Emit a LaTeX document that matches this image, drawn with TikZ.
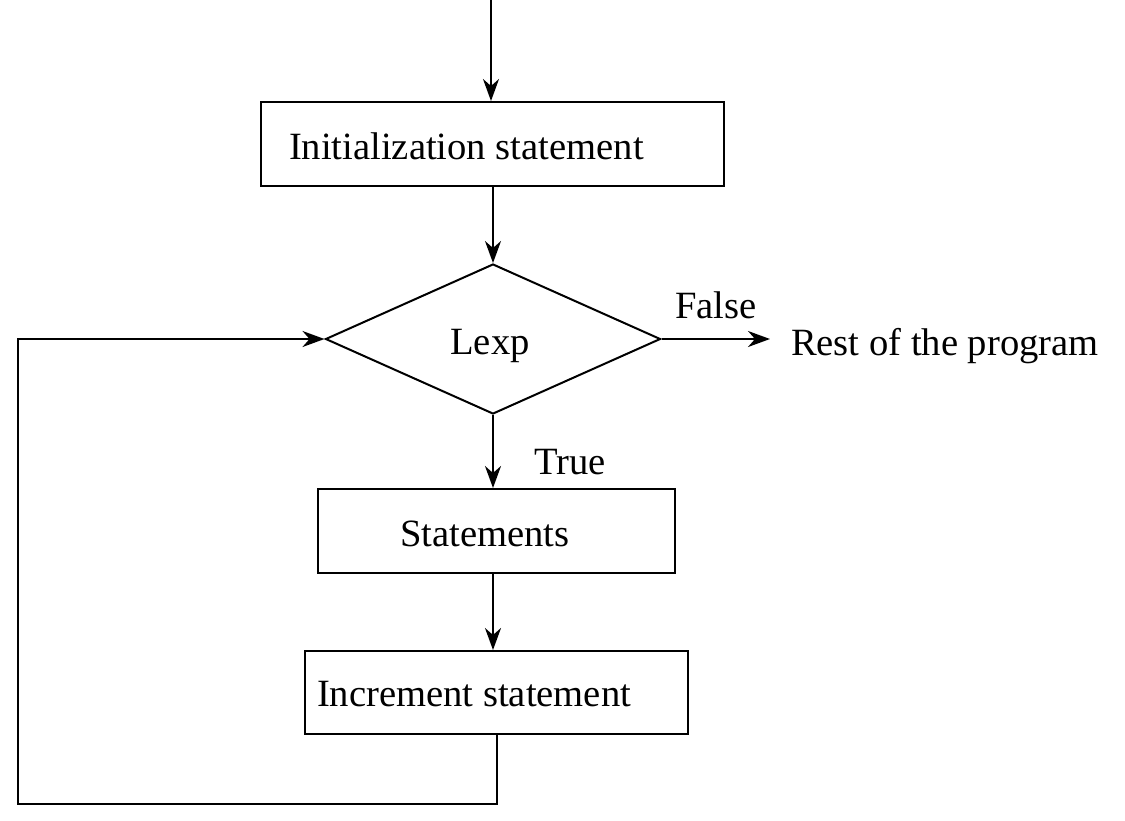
\documentclass[tikz,border=0pt]{standalone}
\usepackage{fontspec}
\setmainfont{Liberation Serif}
\usetikzlibrary{arrows.meta,shapes.geometric}
\begin{document}
\begin{tikzpicture}[x=1pt,y=1pt,
  line width=2pt,
  arr/.style={-{Stealth[length=22pt,width=16pt,inset=7pt]}},
  boxnode/.style={draw,rectangle,inner sep=0pt},
  txt/.style={inner sep=0pt,font=\fontsize{38.6}{44}\selectfont},
]
\useasboundingbox (0,0) rectangle (1125,-820);
\coordinate (start) at (491,0);
\node[boxnode,minimum width=463pt,minimum height=84pt] (init) at (492.5,-144) {};
\node[txt,anchor=base west] (inittxt) at (288,-159) {Initialization statement};
\node[diamond,draw,inner sep=0pt,minimum width=335pt,minimum height=150pt,aspect=2.233,txt] (dia) at (493,-339) {};
\node[txt,anchor=base] (lexp) at (490,-354) {Lexp};
\node[txt,anchor=base west] (rest) at (790,-355) {Rest of the program};
\coordinate (restend) at (770,-339);
\node[txt,anchor=base] (false) at (716,-318) {False};
\node[txt,anchor=base] (true) at (570,-474) {True};
\node[boxnode,minimum width=357pt,minimum height=84pt] (stm) at (496.5,-531) {};
\node[txt,anchor=base] (stmtxt) at (485,-546) {Statements};
\node[boxnode,minimum width=383pt,minimum height=83pt] (inc) at (496.5,-692.5) {};
\node[txt,anchor=base west] (inctxt) at (316,-706) {Increment statement};
\coordinate (loopbl) at (18,-804);

\draw[arr] (start) -- (init.north -| start);
\draw[arr] (init.south -| dia.north) -- (dia.north);
\draw[arr] (dia.east) -- (restend);
\draw[arr] (dia.south) -- (stm.north -| dia.south);
\draw[arr] (stm.south -| dia.south) -- (inc.north -| dia.south);
\draw[arr] (inc.south) |- (loopbl) |- (dia.west);
\end{tikzpicture}
\end{document}
